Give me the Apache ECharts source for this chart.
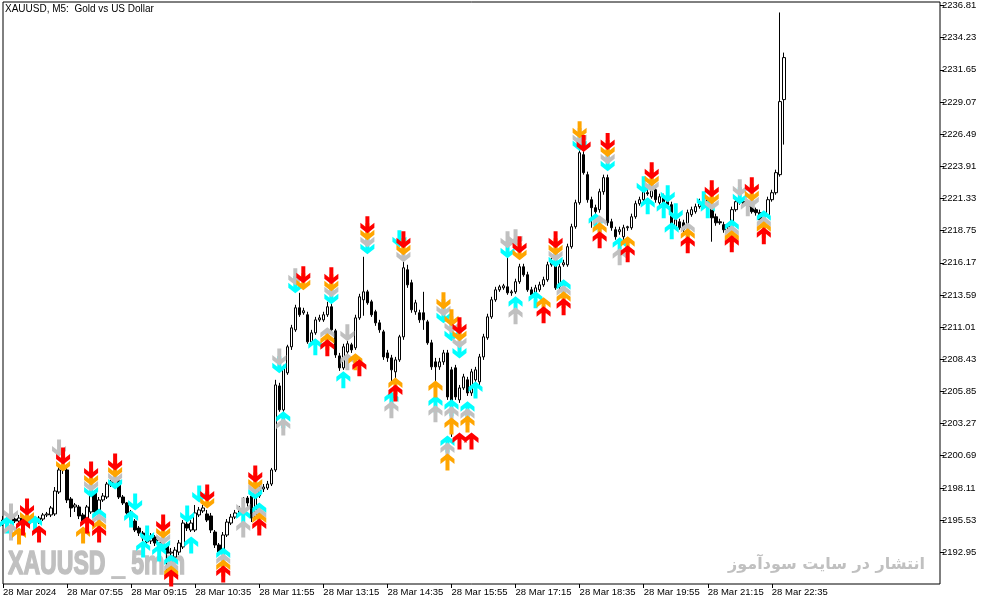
<!DOCTYPE html>
<html>
<head>
<meta charset="utf-8">
<script src="https://cdn.jsdelivr.net/npm/echarts@6/dist/echarts.min.js"></script>
<style>
html,body{margin:0;padding:0;background:#fff;}
#chart{width:994px;height:605px;}
</style>
</head>
<body>
<div id="chart"></div>
<script>
// time labels, one every 16 bars (80 min on M5)
var tickLabels = ['28 Mar 2024','28 Mar 07:55','28 Mar 09:15','28 Mar 10:35','28 Mar 11:55','28 Mar 13:15',
    '28 Mar 14:35','28 Mar 15:55','28 Mar 17:15','28 Mar 18:35','28 Mar 19:55','28 Mar 21:15','28 Mar 22:35'];

// price scale labels on the right
var priceTicks = [2192.95,2195.53,2198.11,2200.69,2203.27,2205.85,2208.43,2211.01,2213.59,
    2216.17,2218.75,2221.33,2223.91,2226.49,2229.07,2231.65,2234.23,2236.81];

// XAUUSD M5 bars
var barOpen = [
    2195.29,2195.53,2195.37,2195.61,2195.45,2195.69,2195.53,2195.37,2195.61,2195.37,
    2195.61,2195.94,2195.94,2196.02,2197.78,2199.55,2199.55,2197.22,2196.58,2196.58,
    2195.94,2195.69,2196.18,2197.70,2196.34,2197.14,2197.38,2198.34,2198.51,2198.67,
    2197.38,2196.90,2196.18,2195.45,2194.89,2194.49,2194.17,2193.85,2194.17,2193.69,
    2193.85,2193.45,2192.88,2192.56,2192.96,2193.37,2195.21,2194.73,2194.73,2195.94,
    2196.26,2196.02,2195.86,2194.57,2193.53,2192.96,2194.33,2195.29,2195.77,2196.02,
    2196.34,2197.30,2197.46,2195.69,2197.46,2198.02,2198.10,2198.42,2199.55,2206.29,
    2204.37,2207.34,2209.43,2210.79,2212.56,2212.16,2212.00,2209.83,2210.55,2211.59,
    2211.59,2212.00,2212.64,2210.71,2208.70,2207.74,2209.02,2209.59,2209.35,2211.75,
    2213.20,2213.84,2213.04,2212.24,2211.35,2210.63,2208.94,2208.54,2207.42,2208.38,
    2210.23,2215.61,2214.57,2212.24,2212.16,2212.16,2211.43,2209.75,2208.22,2207.82,
    2208.22,2208.94,2207.58,2207.74,2205.17,2206.13,2206.78,2205.73,2206.78,2206.62,
    2208.62,2210.15,2211.83,2213.20,2214.00,2214.16,2214.24,2213.76,2213.84,2214.65,
    2215.85,2215.21,2214.00,2213.76,2214.00,2214.40,2214.81,2216.01,2216.25,2214.24,
    2216.01,2216.01,2217.46,2219.06,2220.99,2224.84,2223.24,2221.23,2220.59,2220.43,
    2221.87,2223.00,2219.46,2218.82,2218.66,2218.26,2218.98,2218.98,2219.86,2220.91,
    2221.23,2221.79,2221.47,2222.03,2220.99,2221.47,2221.07,2220.83,2219.06,2219.46,
    2219.38,2219.06,2220.03,2220.27,2220.67,2220.99,2221.23,2220.59,2219.86,2219.46,
    2219.22,2219.06,2219.38,2220.43,2220.99,2221.07,2220.99,2220.67,2220.43,2220.19,
    2219.86,2220.03,2221.23,2221.79,2223.24,2229.26
];
var barClose = [
    2195.53,2195.37,2195.61,2195.45,2195.69,2195.53,2195.37,2195.61,2195.45,2195.69,
    2195.94,2196.02,2196.50,2197.86,2199.55,2199.71,2197.14,2196.50,2196.74,2195.86,
    2195.37,2196.58,2197.78,2196.18,2197.14,2197.46,2198.42,2198.59,2198.75,2197.38,
    2196.90,2196.10,2195.53,2194.73,2194.49,2194.09,2193.77,2194.25,2193.69,2193.93,
    2193.45,2192.88,2192.96,2193.12,2193.69,2195.29,2194.89,2195.29,2196.10,2196.34,
    2196.50,2195.53,2194.73,2193.53,2192.96,2194.33,2195.37,2195.77,2196.10,2196.34,
    2197.14,2196.90,2195.69,2197.54,2198.10,2198.18,2198.42,2199.55,2206.37,2204.37,
    2207.74,2209.43,2210.95,2212.56,2212.00,2212.32,2209.83,2210.55,2211.59,2211.75,
    2212.00,2212.64,2210.79,2208.78,2207.74,2209.43,2209.67,2209.18,2211.75,2213.44,
    2213.84,2212.96,2212.00,2211.35,2210.79,2208.62,2208.54,2207.58,2208.38,2210.23,
    2215.77,2214.40,2212.40,2212.96,2211.59,2211.59,2209.75,2207.82,2207.82,2208.22,
    2208.94,2205.41,2204.61,2205.41,2206.13,2207.02,2205.73,2207.42,2207.58,2208.62,
    2210.23,2211.83,2213.20,2214.00,2214.24,2214.32,2213.76,2213.84,2214.65,2215.85,
    2215.21,2214.00,2213.60,2214.16,2214.40,2214.81,2216.01,2216.25,2214.16,2215.85,
    2216.17,2217.46,2219.06,2220.99,2225.00,2223.40,2221.23,2220.59,2220.27,2221.87,
    2223.00,2219.38,2218.98,2218.26,2218.82,2218.98,2219.06,2219.86,2220.91,2221.23,
    2221.87,2221.71,2222.03,2221.23,2221.47,2220.83,2220.83,2219.06,2219.62,2218.98,
    2218.82,2220.19,2220.43,2220.67,2221.07,2221.23,2220.99,2219.78,2219.38,2219.38,
    2218.82,2219.14,2220.43,2221.07,2221.23,2220.83,2220.67,2220.27,2220.19,2219.62,
    2219.95,2221.23,2221.79,2223.40,2229.10,2232.63
];
var barLow = [
    2195.05,2195.13,2195.21,2195.29,2195.29,2195.37,2195.05,2195.21,2195.29,2195.21,
    2195.45,2195.77,2195.77,2195.86,2197.62,2199.23,2196.90,2195.77,2196.18,2195.61,
    2195.13,2195.53,2196.02,2195.86,2196.02,2196.98,2197.22,2198.18,2198.34,2197.22,
    2196.74,2195.94,2195.29,2194.57,2194.25,2193.85,2193.53,2193.61,2193.45,2193.45,
    2193.12,2190.96,2192.32,2192.32,2192.72,2193.21,2194.65,2194.57,2194.57,2195.77,
    2196.10,2195.37,2194.49,2193.29,2192.64,2192.80,2194.17,2195.13,2195.61,2195.86,
    2196.18,2196.50,2195.37,2195.53,2197.30,2197.78,2197.94,2198.26,2199.39,2204.21,
    2204.21,2207.18,2209.18,2210.63,2211.83,2212.00,2209.67,2209.67,2210.39,2211.43,
    2211.43,2211.83,2210.39,2208.54,2207.50,2207.58,2208.78,2208.94,2209.18,2211.59,
    2211.92,2212.80,2211.83,2211.11,2210.55,2208.38,2208.22,2206.37,2206.78,2208.22,
    2209.99,2214.16,2212.16,2212.00,2211.35,2210.79,2209.59,2207.58,2205.73,2207.58,
    2207.98,2205.17,2202.20,2205.17,2204.93,2205.97,2205.49,2205.49,2206.62,2206.37,
    2208.38,2209.99,2211.67,2213.04,2213.84,2214.00,2213.60,2213.52,2213.68,2214.48,
    2215.05,2213.84,2213.44,2213.60,2213.84,2214.24,2214.65,2215.85,2214.00,2214.00,
    2215.85,2215.85,2217.30,2218.90,2220.83,2223.24,2220.99,2218.98,2220.03,2220.19,
    2221.63,2219.14,2218.74,2218.02,2218.42,2218.02,2218.74,2218.82,2219.70,2220.75,
    2221.07,2221.55,2221.31,2220.99,2220.83,2220.59,2220.59,2218.82,2218.90,2218.82,
    2218.58,2218.90,2219.86,2220.11,2220.51,2220.83,2220.83,2217.86,2219.14,2219.22,
    2218.58,2218.82,2219.22,2220.27,2220.83,2220.67,2220.51,2220.11,2219.95,2219.46,
    2219.62,2219.86,2221.07,2221.63,2223.08,2225.65
];
var barHigh = [
    2195.86,2195.69,2195.86,2195.77,2195.94,2195.86,2195.77,2195.86,2195.77,2195.86,
    2196.10,2196.18,2196.66,2198.18,2199.79,2199.95,2199.71,2197.38,2196.90,2196.74,
    2196.10,2196.74,2198.10,2197.94,2197.38,2197.70,2198.59,2198.75,2198.99,2198.83,
    2197.54,2196.98,2196.34,2195.61,2195.05,2194.65,2194.41,2194.49,2194.33,2194.17,
    2194.09,2193.61,2193.29,2193.37,2193.93,2195.53,2195.45,2195.53,2196.74,2196.58,
    2196.74,2196.34,2196.10,2194.73,2193.69,2194.57,2195.61,2196.02,2196.34,2196.66,
    2197.38,2197.46,2197.54,2197.78,2198.26,2198.42,2198.67,2199.71,2206.78,2206.54,
    2207.98,2209.59,2211.19,2212.80,2213.76,2212.56,2212.24,2210.79,2211.83,2212.00,
    2212.24,2213.04,2212.96,2210.87,2208.94,2209.67,2209.91,2209.75,2212.00,2213.68,
    2216.65,2214.00,2213.20,2212.40,2211.59,2210.79,2209.18,2208.78,2208.62,2210.39,
    2216.25,2216.01,2214.81,2213.20,2212.40,2213.84,2211.59,2209.99,2208.54,2208.54,
    2209.18,2209.18,2207.82,2207.98,2206.37,2207.26,2207.02,2207.66,2207.82,2208.86,
    2210.47,2212.08,2213.44,2214.24,2214.40,2214.48,2216.65,2214.00,2214.89,2216.09,
    2216.09,2215.45,2214.24,2214.40,2214.65,2215.05,2216.25,2216.57,2216.57,2216.09,
    2216.41,2217.70,2219.30,2221.23,2225.24,2225.24,2223.48,2221.47,2220.83,2222.11,
    2223.24,2223.24,2219.70,2219.06,2219.06,2219.22,2219.14,2220.11,2221.15,2221.47,
    2222.11,2222.03,2222.27,2222.27,2221.71,2221.71,2221.31,2221.07,2219.86,2219.70,
    2219.62,2220.43,2220.67,2220.91,2221.31,2221.39,2221.47,2220.83,2220.11,2219.70,
    2219.46,2219.30,2220.67,2221.31,2221.47,2221.31,2221.23,2220.91,2220.59,2220.43,
    2220.03,2221.47,2222.03,2223.64,2236.25,2233.03
];

// signal arrows: [bar, price]
var redDown = [[6,2196.58],[15,2200.67],[22,2199.55],[28,2200.19],[40,2195.29],[51,2197.70],[63,2199.23],
    [75,2215.21],[82,2215.13],[91,2219.22],[100,2218.02],[114,2211.11],[129,2217.62],[138,2218.02],
    [145,2225.73],[151,2225.89],[162,2223.56],[177,2222.11],[187,2222.35]];
var orangeDown = [[6,2196.02],[15,2200.11],[22,2198.99],[28,2199.63],[40,2194.73],[51,2197.14],[63,2198.67],
    [75,2214.65],[82,2214.57],[91,2218.66],[100,2217.46],[110,2213.12],[112,2211.75],[114,2210.55],
    [129,2217.05],[138,2217.46],[144,2226.85],[151,2225.33],[162,2223.00],[177,2221.55],[187,2221.79]];
var silverDown = [[2,2196.18],[14,2201.32],[22,2198.51],[28,2199.15],[40,2194.25],[60,2196.66],[63,2198.26],
    [69,2208.62],[73,2215.05],[82,2214.08],[86,2210.55],[91,2218.10],[100,2216.89],[110,2212.56],
    [112,2211.19],[114,2209.99],[126,2218.02],[128,2218.18],[138,2216.97],[144,2226.29],[151,2224.76],
    [162,2222.52],[177,2221.07],[184,2222.19],[187,2221.31]];
var cyanDown = [[22,2198.02],[28,2198.67],[33,2196.98],[36,2194.41],[40,2193.77],[46,2196.02],[49,2197.62],
    [63,2197.86],[69,2207.98],[73,2214.40],[82,2213.52],[91,2217.54],[99,2218.10],[110,2212.00],
    [112,2210.55],[114,2209.18],[126,2217.22],[138,2216.49],[144,2225.81],[151,2224.20],[160,2222.43],
    [166,2221.71],[168,2220.27],[175,2221.23],[184,2221.55]];

var redUp = [[5,2194.97],[9,2194.41],[21,2195.13],[24,2194.41],[42,2190.88],[55,2191.20],[64,2194.97],
    [81,2209.35],[89,2207.74],[98,2205.73],[114,2201.88],[117,2201.88],[135,2212.00],[140,2212.64],
    [149,2218.02],[156,2216.89],[171,2217.62],[182,2217.70],[190,2218.34]];
var orangeUp = [[4,2194.25],[20,2194.33],[24,2194.89],[42,2191.20],[55,2191.68],[64,2195.45],[81,2209.83],
    [88,2208.22],[98,2206.29],[108,2206.05],[111,2200.19],[112,2203.08],[116,2203.24],[135,2212.72],
    [140,2213.20],[149,2218.74],[156,2217.62],[171,2218.26],[182,2218.10],[190,2218.82]];
var silverUp = [[2,2194.57],[24,2195.37],[42,2191.60],[55,2192.16],[60,2194.81],[64,2195.86],[70,2203.00],
    [81,2210.31],[86,2208.22],[97,2204.37],[108,2204.05],[111,2201.07],[112,2203.97],[116,2203.81],
    [128,2211.92],[140,2213.68],[149,2219.30],[154,2216.65],[171,2218.74],[182,2218.50],[186,2220.59],
    [190,2219.22]];
var cyanUp = [[1,2195.13],[8,2195.21],[24,2195.77],[32,2195.61],[35,2193.21],[39,2192.88],[42,2192.08],
    [47,2193.53],[55,2192.64],[60,2195.77],[64,2196.26],[70,2203.57],[78,2209.43],[85,2206.78],
    [97,2205.17],[108,2204.85],[111,2201.64],[112,2204.53],[116,2204.37],[118,2205.97],[128,2212.80],
    [133,2213.20],[140,2214.16],[148,2219.46],[154,2217.54],[161,2220.75],[165,2220.43],[167,2218.74],
    [176,2220.43],[182,2218.98],[190,2219.70]];

var SLOT_COUNT = 235; // visible bar slots, chart is shifted so the right part stays empty

// wingdings-like arrows: shaft + thick chevron head
var arrowDown = 'path://M5 0H9V12.5H5Z M0 6.5L7 12L14 6.5V11.5L7 17L0 11.5Z';
var arrowUp = 'path://M5 17H9V4.5H5Z M0 10.5L7 5L14 10.5V5.5L7 0L0 5.5Z';

var slots = [];
for (var i = 0; i < SLOT_COUNT; i++) slots.push(i);

var candles = [];
for (var j = 0; j < barOpen.length; j++) {
    candles.push([barOpen[j], barClose[j], barLow[j], barHigh[j]]);
}

function showTick(index) {
    return index % 16 === 0 && index / 16 < tickLabels.length;
}

function arrows(data, color, up) {
    return {
        type: 'scatter',
        data: data,
        symbol: up ? arrowUp : arrowDown,
        symbolSize: [14, 17],
        itemStyle: {color: color, opacity: 1},
        silent: true
    };
}

var axisFont = {color: '#000', fontSize: 9.5, fontFamily: 'Liberation Sans'};

var chart = echarts.init(document.getElementById('chart'));
chart.setOption({
    animation: false,
    backgroundColor: '#fff',
    grid: {left: 2, right: 54, top: 2, bottom: 21, show: true, borderColor: '#000', borderWidth: 1},
    xAxis: {
        type: 'category',
        data: slots,
        boundaryGap: false,
        axisLine: {show: false},
        splitLine: {show: false},
        axisTick: {interval: showTick, length: 4, lineStyle: {color: '#000'}},
        axisLabel: Object.assign({
            interval: showTick,
            align: 'left',
            margin: 3,
            formatter: function (v, idx) { return showTick(idx) ? tickLabels[idx / 16] : ''; }
        }, axisFont)
    },
    yAxis: {
        type: 'value',
        position: 'right',
        min: 2190.40,
        max: 2237.09,
        axisLine: {show: false},
        splitLine: {show: false},
        axisTick: {show: true, customValues: priceTicks, length: 4, lineStyle: {color: '#000'}},
        axisLabel: Object.assign({
            customValues: priceTicks,
            margin: 2,
            formatter: function (v) { return v.toFixed(2); }
        }, axisFont)
    },
    graphic: [
        {type: 'text', x: 5, y: 4, z: 0, style: {text: 'XAUUSD, M5:  Gold vs US Dollar', fill: '#000', font: '10px "Liberation Sans"'}},
        {type: 'text', x: 8, y: 565, scaleX: 0.7, z: 0,
            style: {text: 'XAUUSD _ 5min', fill: '#c0c0c0', stroke: '#c0c0c0', lineWidth: 1.6,
                font: 'bold 33px "Liberation Sans"', verticalAlign: 'middle'}},
        {type: 'text', x: 925, y: 565, z: 0,
            style: {text: 'انتشار در سایت سودآموز', fill: '#c0c0c0', font: 'bold 16px "DejaVu Sans"', align: 'right', verticalAlign: 'middle'}}
    ],
    series: [
        {
            type: 'candlestick',
            data: candles,
            barWidth: 3,
            silent: true,
            itemStyle: {color: '#fff', color0: '#000', borderColor: '#000', borderColor0: '#000', borderColorDoji: '#000', borderWidth: 1}
        },
        arrows(cyanDown, '#00ffff', false),
        arrows(cyanUp, '#00ffff', true),
        arrows(silverDown, '#c0c0c0', false),
        arrows(silverUp, '#c0c0c0', true),
        arrows(orangeDown, '#ffa500', false),
        arrows(orangeUp, '#ffa500', true),
        arrows(redDown, '#ff0000', false),
        arrows(redUp, '#ff0000', true)
    ]
});
</script>
</body>
</html>
